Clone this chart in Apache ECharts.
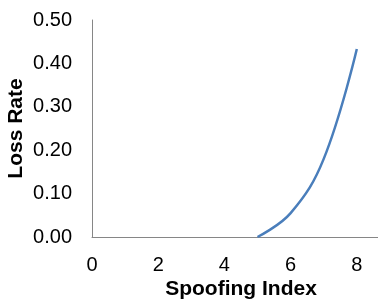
<!DOCTYPE html>
<html>
<head>
<meta charset="utf-8">
<script src="https://cdn.jsdelivr.net/npm/echarts@6/dist/echarts.min.js"></script>
<style>
  html, body { margin: 0; padding: 0; background: #fff; }
  #chart { width: 378px; height: 300px; }
</style>
</head>
<body>
<div id="chart"></div>
<script>
// Data
var spoofIndex = [5, 6, 7, 8];
var lossRate = [0.0, 0.055, 0.18, 0.433];
var yTicks = [0, 0.1, 0.2, 0.3, 0.4, 0.5];

var chart = echarts.init(document.getElementById('chart'));
var font = '"Liberation Sans", Arial, sans-serif';

var points = spoofIndex.map(function (x, i) { return [x, lossRate[i]]; });

chart.setOption({
    animation: false,
    grid: { left: 92, right: 0, top: 20, bottom: 63, outerBoundsMode: 'none', containLabel: false },
    xAxis: {
        type: 'value',
        min: 0,
        max: 8.64,
        interval: 2,
        name: 'Spoofing Index',
        nameLocation: 'middle',
        nameGap: 42,
        nameMoveOverlap: false,
        nameTextStyle: { fontFamily: font, fontSize: 21, fontWeight: 'bold', color: '#000', padding: [0, 0, 0, 12] },
        axisLine: { lineStyle: { color: '#868686', width: 1 } },
        axisTick: { show: false },
        splitLine: { show: false },
        axisLabel: {
            showMaxLabel: false,
            margin: 18,
            fontFamily: font,
            fontSize: 20,
            color: '#000'
        }
    },
    yAxis: {
        type: 'value',
        min: yTicks[0],
        max: yTicks[yTicks.length - 1],
        interval: 0.1,
        name: 'Loss Rate',
        nameLocation: 'middle',
        nameGap: 65,
        nameMoveOverlap: false,
        nameTextStyle: { fontFamily: font, fontSize: 21, fontWeight: 'bold', color: '#000' },
        axisLine: { show: true, lineStyle: { color: '#868686', width: 1 } },
        axisTick: { show: false },
        splitLine: { show: false },
        axisLabel: {
            margin: 20,
            fontFamily: font,
            fontSize: 20,
            color: '#000',
            formatter: function (v) { return v.toFixed(2); }
        }
    },
    series: [
        {
            type: 'line',
            data: points,
            smooth: 0.4,
            showSymbol: false,
            lineStyle: { color: '#4A7EBB', width: 2.5 }
        }
    ]
});
</script>
</body>
</html>
